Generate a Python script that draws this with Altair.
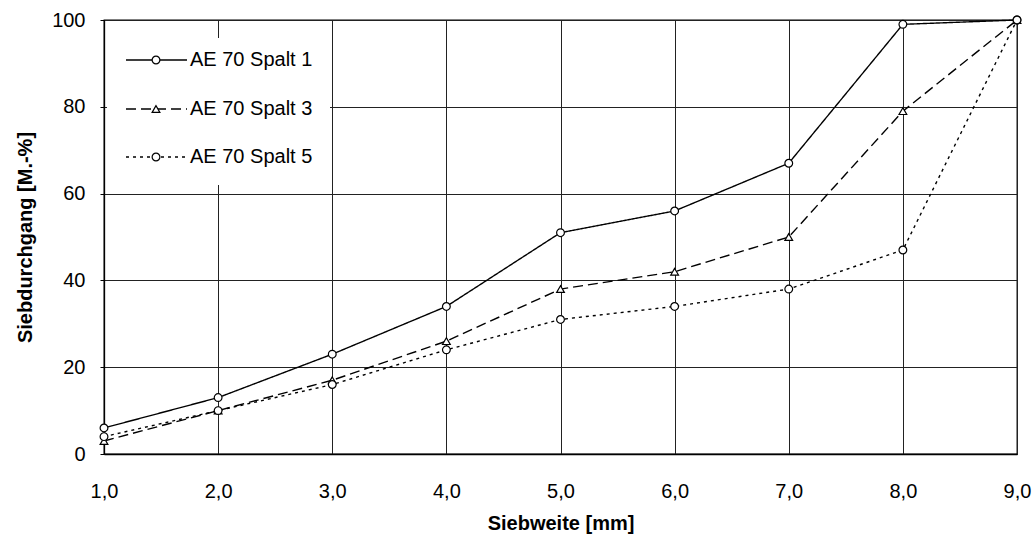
import altair as alt
import pandas as pd

sieve = [1, 2, 3, 4, 5, 6, 7, 8, 9]
spalt1 = [6, 13, 23, 34, 51, 56, 67, 99, 100]
spalt3 = [3, 10, 17, 26, 38, 42, 50, 79, 100]
spalt5 = [4, 10, 16, 24, 31, 34, 38, 47, 100]
series = ["AE 70 Spalt 1", "AE 70 Spalt 3", "AE 70 Spalt 5"]
shapes = ["circle", "triangle-up", "circle"]
dashes = [[1, 0], [10, 5], [3, 4]]

rows = []
for name, vals in zip(series, [spalt1, spalt3, spalt5]):
    for x, y in zip(sieve, vals):
        rows.append({"x": x, "y": y, "s": name})
df = pd.DataFrame(rows)

FONT = "Liberation Sans"
W, H = 913, 434

xs = alt.X("x:Q", scale=alt.Scale(domain=[1, 9], nice=False),
           axis=alt.Axis(title="Siebweite [mm]", values=sieve, grid=True,
                         labelExpr="replace(format(datum.value, '.1f'), '.', ',')",
                         ticks=False, labelPadding=27, titlePadding=12,
                         labelFlush=False, domain=True))
ys = alt.Y("y:Q", scale=alt.Scale(domain=[0, 100], nice=False),
           axis=alt.Axis(title="Siebdurchgang [M.-%]", values=[0, 20, 40, 60, 80, 100],
                         grid=True, tickSize=4, labelPadding=15, titlePadding=16,
                         labelFlush=False))

lines = alt.Chart(df).mark_line(color="black", strokeWidth=1.4).encode(
    x=xs, y=ys,
    strokeDash=alt.StrokeDash("s:N", scale=alt.Scale(domain=series, range=dashes), legend=None),
    detail="s:N",
)
points = alt.Chart(df).mark_point(filled=True, fill="white", stroke="black",
                                  strokeWidth=1.2, size=60, opacity=1).encode(
    x="x:Q", y="y:Q",
    shape=alt.Shape("s:N", scale=alt.Scale(domain=series, range=shapes), legend=None),
)

# custom legend in pixel space
leg_df = pd.DataFrame({"s": series})
legend_layers = [
    alt.Chart(leg_df).mark_rect(fill="white", stroke=None).encode(
        x=alt.value(3), x2=alt.value(226), y=alt.value(18), y2=alt.value(165))
]
ypix = [40, 89, 137]
for name, yp, sh, da in zip(series, ypix, shapes, dashes):
    one = pd.DataFrame({"s": [name]})
    legend_layers.append(alt.Chart(one).mark_rule(color="black", strokeWidth=1.6, strokeDash=da).encode(
        x=alt.value(22), x2=alt.value(83), y=alt.value(yp)))
    legend_layers.append(alt.Chart(one).mark_point(shape=sh, filled=True, fill="white", stroke="black",
                                                   strokeWidth=1.2, size=60, opacity=1).encode(
        x=alt.value(52), y=alt.value(yp)))
    legend_layers.append(alt.Chart(one).mark_text(align="left", baseline="middle", font=FONT,
                                                  fontSize=20, color="black").encode(
        x=alt.value(86), y=alt.value(yp), text="s:N"))

chart = alt.layer(lines, points, *legend_layers).properties(
    width=W, height=H,
    autosize=alt.AutoSizeParams(type="none"),
    padding={"left": 104, "top": 20, "right": 18, "bottom": 87},
).configure_view(stroke="black", strokeWidth=1.3).configure_axis(
    labelFont=FONT, titleFont=FONT, labelFontSize=20, titleFontSize=20,
    labelColor="black", titleColor="black", titleFontWeight="bold",
    gridColor="#222", gridWidth=1, domainColor="black", tickColor="black", domainWidth=1.3,
)
chart.save("out.html", embed_options={"renderer": "svg", "actions": False})
